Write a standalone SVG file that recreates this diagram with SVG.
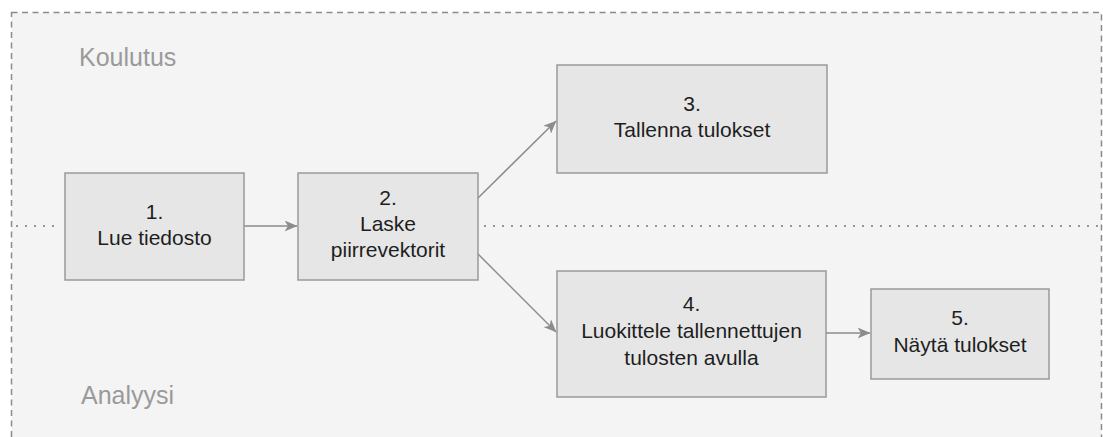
<svg xmlns="http://www.w3.org/2000/svg" width="1103" height="437" viewBox="0 0 1103 437">
  <style>
    .frame { fill: #f4f4f4; stroke: #8a8a8a; stroke-width: 1.5; stroke-dasharray: 6 4.5; }
    .divider { fill: none; stroke: #777; stroke-width: 2; stroke-linecap: round; stroke-dasharray: 0 9; }
    .lane { font-family: "Liberation Sans", Arial, sans-serif; font-size: 25px; fill: #9a9a9a; }
    .box { fill: #e6e6e6; stroke: #999; stroke-width: 1.5; }
    .lbl { font-family: "Liberation Sans", Arial, sans-serif; font-size: 21px; fill: #1e1e1e; text-anchor: middle; }
    .edge { fill: none; stroke: #8c8c8c; stroke-width: 1.5; }
  </style>
  <defs>
    <marker id="arrow" viewBox="0 0 13 11" refX="12.5" refY="5.5" markerWidth="13" markerHeight="11" markerUnits="userSpaceOnUse" orient="auto">
      <path d="M0,0 L13,5.5 L0,11 L3.5,5.5 z" fill="#8c8c8c"/>
    </marker>
  </defs>

  <rect width="1103" height="437" fill="#ffffff"/>

  <!-- swimlane frame and separator -->
  <g id="lanes">
    <rect class="frame" x="11.5" y="12.5" width="1090" height="440"/>
    <line class="divider" x1="17" y1="226" x2="62" y2="226"/>
    <line class="divider" x1="485" y1="226" x2="1100" y2="226"/>
    <text class="lane" x="79" y="66">Koulutus</text>
    <text class="lane" x="81" y="404">Analyysi</text>
  </g>

  <!-- connectors -->
  <g id="connectors">
    <line class="edge" x1="244" y1="226" x2="297" y2="226" marker-end="url(#arrow)"/>
    <line class="edge" x1="478" y1="198" x2="556" y2="121" marker-end="url(#arrow)"/>
    <line class="edge" x1="478" y1="254" x2="556" y2="332" marker-end="url(#arrow)"/>
    <line class="edge" x1="826" y1="333" x2="870" y2="333" marker-end="url(#arrow)"/>
  </g>

  <g id="node1">
    <rect class="box" x="65" y="173" width="179" height="107"/>
    <text class="lbl" x="154.5" y="219">1.</text>
    <text class="lbl" x="154.5" y="245">Lue tiedosto</text>
  </g>

  <g id="node2">
    <rect class="box" x="298" y="173" width="180" height="107"/>
    <text class="lbl" x="388" y="205">2.</text>
    <text class="lbl" x="388" y="231">Laske</text>
    <text class="lbl" x="388" y="257">piirrevektorit</text>
  </g>

  <g id="node3">
    <rect class="box" x="557" y="65" width="270" height="108"/>
    <text class="lbl" x="692" y="111">3.</text>
    <text class="lbl" x="692" y="137">Tallenna tulokset</text>
  </g>

  <g id="node4">
    <rect class="box" x="557" y="271" width="269" height="126"/>
    <text class="lbl" x="691.5" y="311">4.</text>
    <text class="lbl" x="691.5" y="338">Luokittele tallennettujen</text>
    <text class="lbl" x="691.5" y="365">tulosten avulla</text>
  </g>

  <g id="node5">
    <rect class="box" x="871" y="289" width="178" height="90"/>
    <text class="lbl" x="960" y="325">5.</text>
    <text class="lbl" x="960" y="352">Näytä tulokset</text>
  </g>
</svg>
